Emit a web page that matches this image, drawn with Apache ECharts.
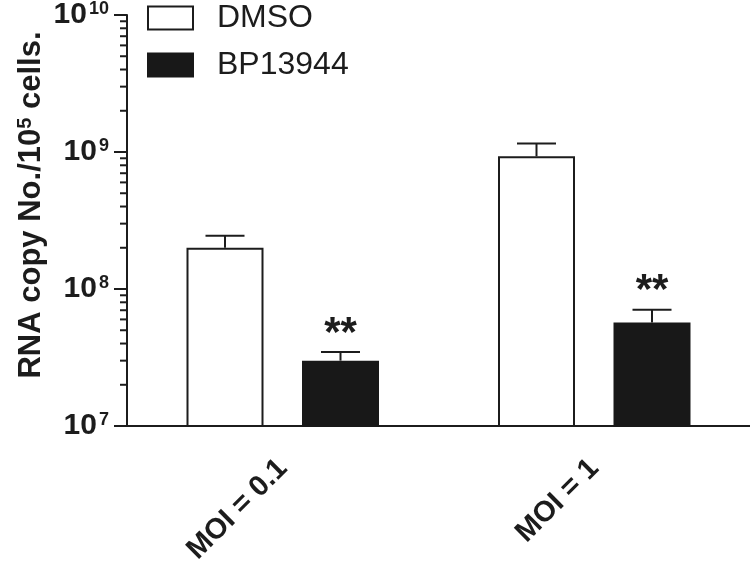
<!DOCTYPE html>
<html>
<head>
<meta charset="utf-8">
<script src="https://cdn.jsdelivr.net/npm/echarts@6/dist/echarts.min.js"></script>
<style>html,body{margin:0;padding:0;background:#fff}#c{width:750px;height:567px}</style>
</head>
<body>
<div id="c"></div>
<script>
const categories = ['MOI = 0.1', 'MOI = 1'];
const seriesNames = ['DMSO', 'BP13944'];
const dmsoValues = [2.0e8, 9.3e8];
const dmsoUpper = [2.45e8, 1.155e9];
const bpValues = [3.0e7, 5.7e7];
const bpUpper = [3.47e7, 7.07e7];
const bpSignificance = ['**', '**'];
const dmsoSignificance = ['', ''];
const yMin = 1e7, yMax = 1e10;
const minorMultipliers = [2, 3, 4, 5, 6, 7, 8, 9];
const decades = [1e7, 1e8, 1e9];

const minorTicks = [];
decades.forEach(d => minorMultipliers.forEach(m => minorTicks.push([0, m * d])));

const FONT = 'Liberation Sans, Arial, sans-serif';
const INK = '#1c1c1c';
const BAR_W = 77;
const GAP = 38.5;
const OFF = (BAR_W + GAP) / 2;

function errSeries(name, vals, upper, sig, offset) {
  return {
    type: 'custom',
    name: name + ' err',
    silent: true,
    z: 5,
    clip: false,
    data: vals.map((v, i) => [i, v, upper[i]]),
    renderItem: function (params, api) {
      const idx = api.value(0);
      const b = api.coord([idx, api.value(1)]);
      const t = api.coord([idx, api.value(2)]);
      const x = b[0] + offset;
      const cap = 19.5;
      const s = sig[params.dataIndex];
      const children = [
        { type: 'line', shape: { x1: x, y1: b[1], x2: x, y2: t[1] }, style: { stroke: INK, lineWidth: 2 } },
        { type: 'line', shape: { x1: x - cap, y1: t[1], x2: x + cap, y2: t[1] }, style: { stroke: INK, lineWidth: 2 } }
      ];
      if (s) {
        children.push({
          type: 'text',
          style: { text: s, x: x, y: t[1] - 18, align: 'center', verticalAlign: 'middle',
                   font: 'bold 42px ' + FONT, fill: INK }
        });
      }
      return { type: 'group', children: children };
    }
  };
}

const chart = echarts.init(document.getElementById('c'));
chart.setOption({
  animation: false,
  backgroundColor: '#fff',
  grid: { left: 127, right: 0, top: 15, bottom: 139 },
  legend: {
    orient: 'vertical',
    left: 147, top: 2, padding: 0,
    itemWidth: 45, itemHeight: 23, itemGap: 15,
    icon: 'rect',
    data: seriesNames,
    textStyle: { fontFamily: FONT, fontSize: 32, color: INK, padding: [0, 0, 0, 19] }
  },
  xAxis: {
    type: 'category',
    data: categories,
    axisLine: { lineStyle: { color: INK, width: 2 } },
    axisTick: { alignWithLabel: true, length: 12, lineStyle: { color: INK, width: 2 } },
    axisLabel: { rotate: 45, margin: 38, fontFamily: FONT, fontWeight: 'bold', fontSize: 29, color: INK }
  },
  yAxis: {
    type: 'log',
    logBase: 10,
    min: yMin, max: yMax,
    splitLine: { show: false },
    axisLine: { show: true, lineStyle: { color: INK, width: 2 } },
    axisTick: { show: true, length: 13, lineStyle: { color: INK, width: 2 } },
    axisLabel: {
      margin: 18,
      formatter: function (v) { return '{b|10}{s|' + Math.round(Math.log10(v)) + '}'; },
      rich: {
        b: { fontFamily: FONT, fontWeight: 'bold', fontSize: 30, color: INK, lineHeight: 30 },
        s: { fontFamily: FONT, fontWeight: 'bold', fontSize: 18, color: INK, verticalAlign: 'top', padding: [0, 0, 0, 2] }
      }
    }
  },
  graphic: [{
    type: 'text',
    x: 31, y: 205,
    rotation: Math.PI / 2,
    style: {
      text: '{a|RNA copy No./10}{s|5}{a| cells.}',
      align: 'center', verticalAlign: 'middle',
      rich: {
        a: { fontFamily: FONT, fontWeight: 'bold', fontSize: 31, fill: INK, lineHeight: 31 },
        s: { fontFamily: FONT, fontWeight: 'bold', fontSize: 20, fill: INK, verticalAlign: 'top' }
      }
    }
  }],
  series: [
    {
      name: seriesNames[0], type: 'bar', data: dmsoValues,
      barWidth: BAR_W, barGap: '50%',
      itemStyle: { color: '#ffffff', borderColor: INK, borderWidth: 2 }
    },
    {
      name: seriesNames[1], type: 'bar', data: bpValues,
      barWidth: BAR_W, barGap: '50%',
      itemStyle: { color: '#181818', borderColor: '#181818', borderWidth: 2 }
    },
    errSeries(seriesNames[0], dmsoValues, dmsoUpper, dmsoSignificance, -OFF),
    errSeries(seriesNames[1], bpValues, bpUpper, bpSignificance, OFF),
    {
      type: 'custom',
      name: 'minor ticks',
      silent: true,
      clip: false,
      data: minorTicks,
      renderItem: function (params, api) {
        const p = api.coord([0, api.value(1)]);
        const x0 = params.coordSys.x;
        return { type: 'line', shape: { x1: x0 - 7, y1: p[1], x2: x0, y2: p[1] }, style: { stroke: INK, lineWidth: 2 } };
      }
    }
  ]
});
</script>
</body>
</html>
